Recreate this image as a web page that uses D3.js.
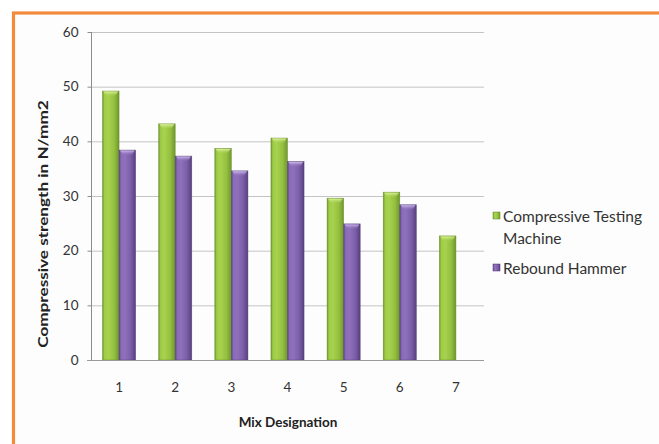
<!DOCTYPE html>
<html>
<head>
<meta charset="utf-8">
<script src="https://cdn.jsdelivr.net/npm/d3@7"></script>
<style>
  html, body { margin: 0; padding: 0; background: #ffffff; }
  svg { display: block; }
  text { font-family: Lato, "Open Sans", sans-serif; }
</style>
</head>
<body>
<svg id="chart" width="659" height="444"></svg>
<script>
// Mix designations and measured strengths (N/mm2)
const categories = ["1", "2", "3", "4", "5", "6", "7"];
const seriesNames = ["Compressive Testing Machine", "Rebound Hammer"];
const ctmValues = [49.2, 43.2, 38.7, 40.6, 29.6, 30.7, 22.7];
const reboundValues = [38.4, 37.3, 34.6, 36.3, 24.9, 28.4, null];
const yTicks = [0, 10, 20, 30, 40, 50, 60];

const svg = d3.select("#chart");

// outer frame
svg.append("rect").attr("x", 0).attr("y", 0).attr("width", 659).attr("height", 444).attr("fill", "#ffffff");
svg.append("rect")
  .attr("x", 13.5).attr("y", 13)
  .attr("width", 720).attr("height", 520)
  .attr("fill", "#fdfdfd")
  .attr("stroke", "#f28c3c").attr("stroke-width", 3.2);

const defs = svg.append("defs");
function barGradient(id, stops) {
  const g = defs.append("linearGradient").attr("id", id)
    .attr("x1", "0%").attr("x2", "100%").attr("y1", "0%").attr("y2", "0%");
  stops.forEach(([o, c]) => g.append("stop").attr("offset", o).attr("stop-color", c));
}
barGradient("gGreen", [["0%", "#6e9a2c"], ["12%", "#9fcb47"], ["35%", "#a7d24e"], ["70%", "#95c040"], ["100%", "#6f982b"]]);
barGradient("gPurple", [["0%", "#5e4287"], ["12%", "#8a6bb8"], ["35%", "#8e70bb"], ["70%", "#7c5fa8"], ["100%", "#58407f"]]);
function capGradient(id, top, bottom) {
  const g = defs.append("linearGradient").attr("id", id)
    .attr("x1", "0%").attr("x2", "0%").attr("y1", "0%").attr("y2", "100%");
  g.append("stop").attr("offset", "0%").attr("stop-color", top);
  g.append("stop").attr("offset", "100%").attr("stop-color", bottom).attr("stop-opacity", 0);
}
capGradient("capGreen", "#e4f5a6", "#a7d24e");
capGradient("capPurple", "#d3c1ef", "#8e70bb");

const fills = ["url(#gGreen)", "url(#gPurple)"];
const caps = ["url(#capGreen)", "url(#capPurple)"];
const edges = ["#5f8624", "#4d3872"];

const x = d3.scaleBand().domain(categories).range([91, 484])
  .paddingInner(0.41).paddingOuter(0.205);
const xs = d3.scaleBand().domain([0, 1]).range([0, x.bandwidth()]);
const y = d3.scaleLinear().domain([0, 60]).range([360, 32]);

// horizontal gridlines
svg.append("g").selectAll("line").data(yTicks.filter(t => t > 0)).join("line")
  .attr("x1", 91).attr("x2", 484)
  .attr("y1", d => y(d) + 0.5).attr("y2", d => y(d) + 0.5)
  .attr("stroke", "#c4c4c4").attr("stroke-width", 1);

// bars
const rows = categories.map((c, i) => ({ c, v: [ctmValues[i], reboundValues[i]] }));
const groups = svg.append("g").selectAll("g").data(rows).join("g")
  .attr("transform", d => `translate(${x(d.c)},0)`);
groups.each(function (d) {
  const g = d3.select(this);
  d.v.forEach((v, s) => {
    if (v == null) return;
    const bx = xs(s), bw = xs.bandwidth(), by = y(v), bh = y(0) - y(v);
    g.append("rect").attr("x", bx).attr("y", by).attr("width", bw).attr("height", bh)
      .attr("fill", fills[s]).attr("stroke", edges[s]).attr("stroke-width", 0.6).attr("stroke-opacity", 0.7);
    g.append("path")
      .attr("d", `M${bx + 1},${by + 0.5} L${bx + bw - 1},${by + 0.5} L${bx + bw - 3},${by + 4} Q${bx + bw / 2},${by + 7} ${bx + 3},${by + 4} Z`)
      .attr("fill", caps[s]).attr("opacity", 0.9);
  });
});

// y axis
const yAxis = svg.append("g").attr("transform", "translate(91.5,0)")
  .call(d3.axisLeft(y).tickValues(yTicks).tickSize(4).tickPadding(9).tickFormat(d3.format("d")));
yAxis.select(".domain").attr("stroke", "#8c8c8c").attr("d", `M0,${y(60)}V${y(0)}`);
yAxis.selectAll(".tick line").attr("stroke", "#8c8c8c");
yAxis.selectAll(".tick text").attr("fill", "#333").attr("font-size", 13.5)
  .attr("font-family", "Lato, sans-serif");

// x axis baseline and labels
const xAxis = svg.append("g").attr("transform", `translate(0,${y(0) + 0.5})`)
  .call(d3.axisBottom(x).tickSize(0).tickPadding(22));
xAxis.select(".domain").attr("stroke", "#9a9a9a").attr("d", "M87,0H484");
xAxis.selectAll(".tick text").attr("fill", "#333").attr("font-size", 13.5)
  .attr("font-family", "Lato, sans-serif");

// axis titles
svg.append("text").attr("x", 288).attr("y", 427).attr("text-anchor", "middle")
  .attr("font-size", 13.5).attr("font-weight", "bold").attr("fill", "#222")
  .text("Mix Designation");
svg.append("text").attr("transform", "translate(48,224) rotate(-90) scale(1.27,1)").attr("text-anchor", "middle")
  .attr("font-size", 13.5).attr("font-weight", "bold").attr("fill", "#222")
  .text("Compressive strength in N/mm2");

// legend
const legend = svg.append("g");
const legendRows = [
  { lines: ["Compressive Testing", "Machine"], y: 216 },
  { lines: ["Rebound Hammer"], y: 268 }
];
legendRows.forEach((r, i) => {
  legend.append("rect").attr("x", 493).attr("y", r.y - 4).attr("width", 7).attr("height", 7)
    .attr("fill", fills[i]).attr("stroke", edges[i]).attr("stroke-width", 0.5);
  const t = legend.append("text").attr("x", 503).attr("y", r.y + 5.5)
    .attr("font-size", 15.5).attr("fill", "#333");
  r.lines.forEach((ln, k) => t.append("tspan").attr("x", 503).attr("dy", k === 0 ? 0 : 22).text(ln));
});
</script>
</body>
</html>
